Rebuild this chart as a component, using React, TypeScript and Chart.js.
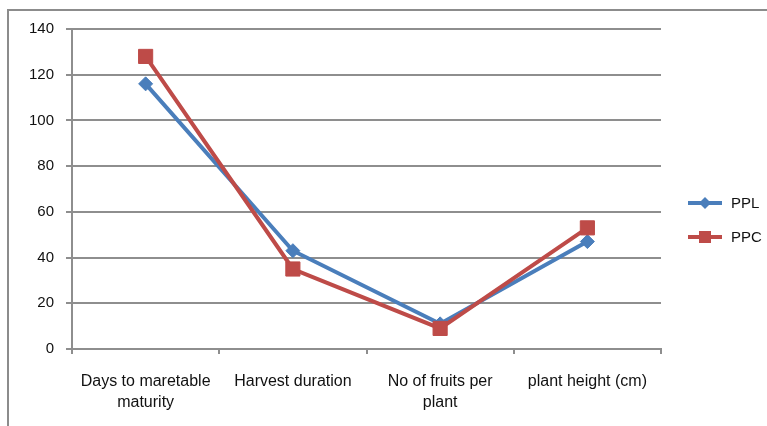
import React, { useEffect, useRef } from "react";
import { Chart, registerables } from "chart.js";

Chart.register(...registerables);

const categories: string[][] = [
  ["Days to maretable", "maturity"],
  ["Harvest duration"],
  ["No of fruits per", "plant"],
  ["plant height (cm)"],
];
const pplValues = [116, 43, 11, 47];
const ppcValues = [128, 35, 9, 53];
const yTicks = [0, 20, 40, 60, 80, 100, 120, 140];

const BLUE = "#4a7ebb";
const RED = "#be4b48";
const GRID = "#8e8e8e";
const FONT = "'Liberation Sans', Arial, sans-serif";

const legendPlugin = {
  id: "customLegend",
  afterDraw(chart: any) {
    const ctx = chart.ctx;
    const items = [
      { label: "PPL", color: BLUE, style: "diamond" },
      { label: "PPC", color: RED, style: "square" },
    ];
    const x0 = 688;
    const x1 = 722;
    items.forEach((it, i) => {
      const y = 203 + i * 34;
      ctx.save();
      ctx.strokeStyle = it.color;
      ctx.lineWidth = 4;
      ctx.beginPath();
      ctx.moveTo(x0, y);
      ctx.lineTo(x1, y);
      ctx.stroke();
      ctx.fillStyle = it.color;
      const cx = (x0 + x1) / 2;
      if (it.style === "diamond") {
        ctx.beginPath();
        ctx.moveTo(cx, y - 6);
        ctx.lineTo(cx + 6, y);
        ctx.lineTo(cx, y + 6);
        ctx.lineTo(cx - 6, y);
        ctx.closePath();
        ctx.fill();
      } else {
        ctx.fillRect(cx - 6, y - 6, 12, 12);
      }
      ctx.fillStyle = "#111";
      ctx.font = `15px ${FONT}`;
      ctx.textBaseline = "middle";
      ctx.textAlign = "left";
      ctx.fillText(it.label, 731, y + 1);
      ctx.restore();
    });
  },
};

export default function App() {
  const ref = useRef<HTMLCanvasElement | null>(null);
  useEffect(() => {
    if (!ref.current) return;
    const chart = new Chart(ref.current, {
      type: "line",
      data: {
        labels: categories as any,
        datasets: [
          {
            label: "PPL",
            data: pplValues,
            borderColor: BLUE,
            backgroundColor: BLUE,
            borderWidth: 4,
            pointStyle: "rectRot",
            pointRadius: 7,
            pointBorderWidth: 1,
            pointBackgroundColor: BLUE,
            pointBorderColor: BLUE,
            tension: 0,
            order: 1,
          },
          {
            label: "PPC",
            data: ppcValues,
            borderColor: RED,
            backgroundColor: RED,
            borderWidth: 4,
            pointStyle: "rect",
            pointRadius: 10,
            pointBorderWidth: 1,
            pointBackgroundColor: RED,
            pointBorderColor: RED,
            tension: 0,
            order: 0,
          },
        ],
      },
      options: {
        animation: false,
        responsive: false,
        maintainAspectRatio: false,
        layout: { padding: { left: 0, top: 29, right: 106, bottom: 0 } },
        plugins: {
          legend: { display: false },
          tooltip: { enabled: false },
        },
        scales: {
          x: {
            offset: true,
            grid: {
              display: true,
              offset: true,
              drawOnChartArea: false,
              drawTicks: true,
              tickLength: 5,
              color: GRID,
              lineWidth: 2,
            },
            border: { display: true, color: GRID, width: 2 },
            ticks: {
              color: "#111",
              font: { family: FONT, size: 16, lineHeight: 1.3 },
              padding: 17,
              maxRotation: 0,
              autoSkip: false,
            },
            afterFit(scale: any) {
              scale.height = 77;
            },
          },
          y: {
            min: 0,
            max: 140,
            afterBuildTicks(scale: any) {
              scale.ticks = yTicks.map((v) => ({ value: v }));
            },
            grid: {
              color: GRID,
              lineWidth: 2,
              drawTicks: true,
              tickLength: 6,
            },
            border: { display: true, color: GRID, width: 2 },
            ticks: {
              color: "#111",
              font: { family: FONT, size: 15 },
              padding: 12,
            },
            afterFit(scale: any) {
              scale.width = 72;
            },
          },
        },
      },
      plugins: [legendPlugin],
    });
    return () => chart.destroy();
  }, []);

  return (
    <div style={{ position: "fixed", left: 0, top: 0, width: 767, height: 426, background: "#fff", overflow: "hidden" }}>
      <div
        style={{
          position: "absolute",
          left: 7,
          top: 9,
          width: 800,
          height: 500,
          border: "2px solid #8c8c8c",
          boxSizing: "border-box",
        }}
      />
      <canvas ref={ref} width={767} height={426} style={{ position: "absolute", left: 0, top: 0, width: 767, height: 426 }} />
    </div>
  );
}
